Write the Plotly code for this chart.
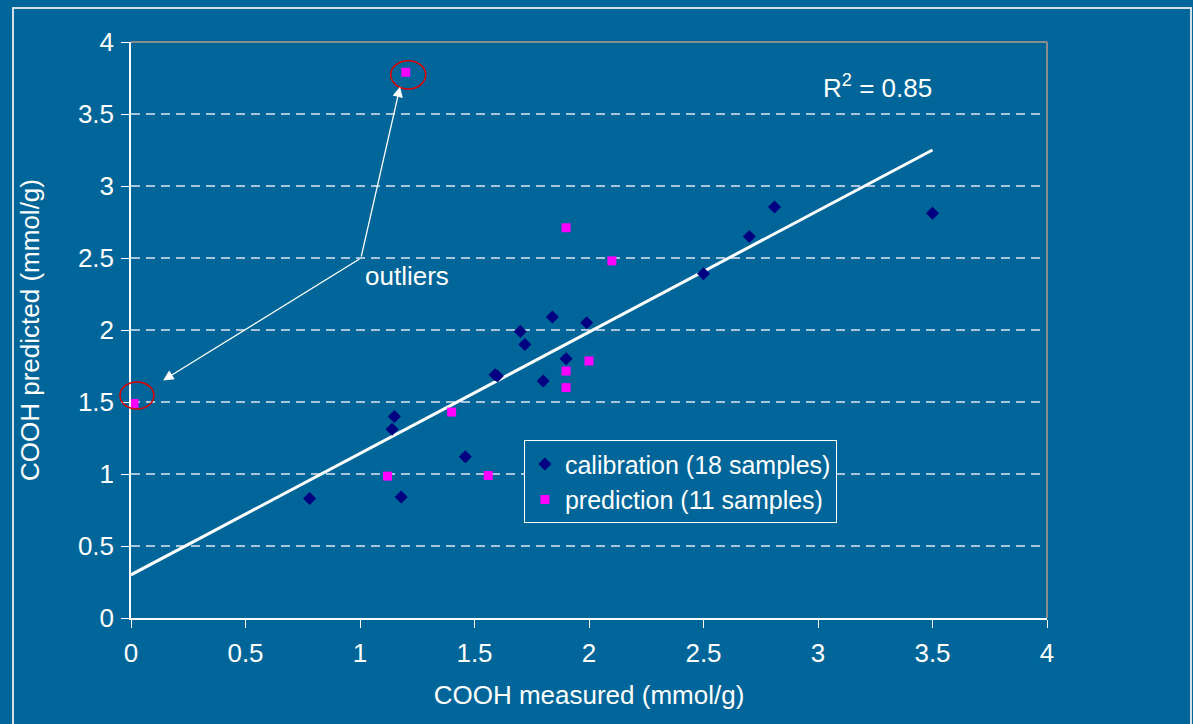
import plotly.graph_objects as go

# ---- data ----
calib_x = [0.78, 1.14, 1.15, 1.18, 1.46, 1.59, 1.60, 1.70, 1.72, 1.80, 1.84, 1.90, 1.99, 2.50, 2.70, 2.81, 3.50]
calib_y = [0.83, 1.31, 1.40, 0.84, 1.12, 1.69, 1.68, 1.99, 1.90, 1.645, 2.09, 1.80, 2.05, 2.39, 2.65, 2.855, 2.81]

pred_x = [0.013, 1.12, 1.20, 1.40, 1.56, 1.90, 1.90, 1.90, 2.00, 2.10]
pred_y = [1.49, 0.985, 3.79, 1.43, 0.99, 1.60, 1.715, 2.71, 1.785, 2.48]

fit_x = [0.0, 3.5]
fit_y = [0.30, 3.25]

# outlier arrows: common tail and two tips
arrow_tail = (1.004, 2.5)
arrow_tips = [(1.175, 3.69), (0.14, 1.65)]

x_ticks = [0, 0.5, 1, 1.5, 2, 2.5, 3, 3.5, 4]
y_ticks = [0, 0.5, 1, 1.5, 2, 2.5, 3, 3.5, 4]
x_range = [0, 4]
y_range = [0, 4]

BG = "#006699"
FONT = "Liberation Sans, Arial, sans-serif"
GRID = "#a9c5da"
FS = 26

fig = go.Figure()

fig.add_trace(go.Scatter(
    x=fit_x, y=fit_y, mode="lines", line=dict(color="white", width=3),
    showlegend=False, hoverinfo="skip"))

fig.add_trace(go.Scatter(
    x=calib_x, y=calib_y, mode="markers", name="calibration (18 samples)",
    marker=dict(symbol="diamond", size=10, color="#000080"), cliponaxis=False))

fig.add_trace(go.Scatter(
    x=pred_x, y=pred_y, mode="markers", name="prediction (11 samples)",
    marker=dict(symbol="square", size=9, color="#ff00ff"), cliponaxis=False))


def px_(v):
    return (v - x_range[0]) / (x_range[1] - x_range[0])


def py_(v):
    return (v - y_range[0]) / (y_range[1] - y_range[0])


shapes = []
shapes.append(dict(type="line", xref="paper", yref="paper", x0=0, x1=1, y0=1, y1=1,
                   line=dict(color="#8c8c8c", width=2)))
shapes.append(dict(type="line", xref="paper", yref="paper", x0=1, x1=1, y0=0, y1=1,
                   line=dict(color="#8c8c8c", width=2)))
shapes.append(dict(type="rect", xref="paper", yref="paper",
                   x0=-0.1288, x1=1.1572, y0=-0.2, y1=1.059,
                   line=dict(color="#d5dfe8", width=2), layer="below"))
shapes.append(dict(type="circle", xref="paper", yref="paper",
                   x0=px_(-0.048), x1=px_(0.10), y0=py_(1.451), y1=py_(1.639),
                   line=dict(color="#e00000", width=1.5)))
shapes.append(dict(type="circle", xref="paper", yref="paper",
                   x0=px_(1.134), x1=px_(1.287), y0=py_(3.674), y1=py_(3.87),
                   line=dict(color="#e00000", width=1.5)))

annotations = [
    dict(x=3.26, y=3.69, xref="x", yref="y", text="R<sup>2</sup> = 0.85",
         showarrow=False, font=dict(size=FS, color="white", family=FONT)),
    dict(x=1.205, y=2.375, xref="x", yref="y", text="outliers",
         showarrow=False, font=dict(size=FS, color="white", family=FONT)),
]
for tip in arrow_tips:
    annotations.append(dict(
        x=tip[0], y=tip[1], xref="x", yref="y",
        ax=arrow_tail[0], ay=arrow_tail[1], axref="x", ayref="y",
        text="", showarrow=True, arrowhead=2, arrowsize=1.6, arrowwidth=1.3,
        arrowcolor="white", standoff=0, startstandoff=0))

fig.update_layout(
    width=1193, height=724,
    margin=dict(l=131, r=146, t=42, b=106),
    paper_bgcolor=BG, plot_bgcolor=BG,
    font=dict(family=FONT, color="white", size=FS),
    shapes=shapes, annotations=annotations,
    legend=dict(x=px_(1.716), y=py_(1.235), xanchor="left", yanchor="top",
                bgcolor=BG, bordercolor="white", borderwidth=1,
                font=dict(size=25, color="white", family=FONT),
                itemwidth=30, tracegroupgap=0),
    xaxis=dict(range=x_range, tickvals=x_ticks, ticktext=[f"{v:g}" for v in x_ticks],
               showgrid=False, zeroline=False, showline=True, linecolor="white", linewidth=1.5,
               ticks="outside", ticklen=8, tickcolor="white", tickwidth=1,
               ticklabelstandoff=3,
               tickfont=dict(size=FS, color="white", family=FONT),
               title=dict(text="COOH measured (mmol/g)", font=dict(size=FS, color="white", family=FONT),
                          standoff=19)),
    yaxis=dict(range=y_range, tickvals=y_ticks, ticktext=[f"{v:g}" for v in y_ticks],
               showgrid=True, gridcolor=GRID, griddash="9px,6px", gridwidth=1.5,
               zeroline=False, showline=True, linecolor="white", linewidth=1.5,
               ticks="outside", ticklen=8, tickcolor="white", tickwidth=1,
               ticklabelstandoff=2,
               tickfont=dict(size=FS, color="white", family=FONT),
               title=dict(text="COOH predicted (mmol/g)", font=dict(size=FS, color="white", family=FONT),
                          standoff=31)),
)

fig.write_html("out.html")
